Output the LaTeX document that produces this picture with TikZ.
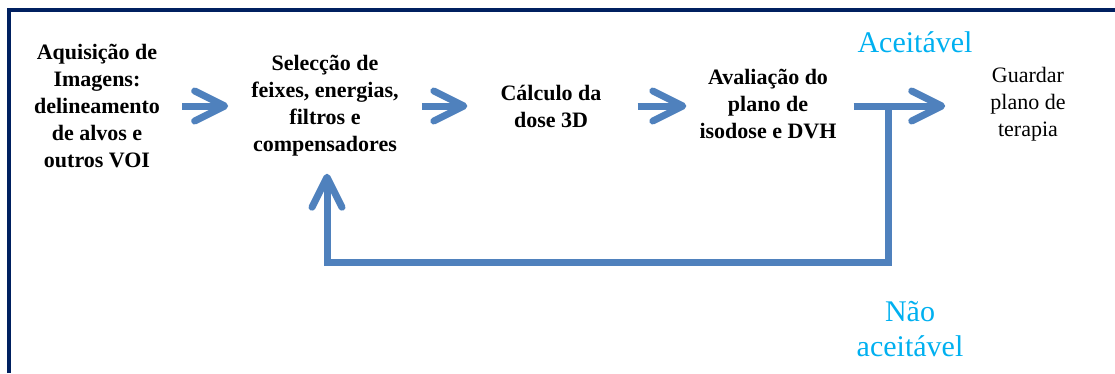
\documentclass[tikz,border=0pt]{standalone}
\usepackage{fontspec}
\setmainfont{Liberation Serif}
\usetikzlibrary{arrows.meta}

\definecolor{frameblue}{HTML}{002060}
\definecolor{arrowblue}{HTML}{4F81BD}
\definecolor{labelcyan}{HTML}{00B0F0}

\tikzset{
    stepbox/.style={align=center, inner sep=2pt, font=\fontsize{22}{27}\selectfont\bfseries},
    flow/.style={line width=7pt, arrowblue, -{Straight Barb[length=30pt,width=30pt,round]}},
    decision/.style={text=labelcyan, align=center, inner sep=0pt, font=\fontsize{30}{35}\selectfont}
}

\begin{document}
\begin{tikzpicture}[x=1pt,y=-1pt]
    \useasboundingbox (0,0) rectangle (1115,373);

    % Frame
    \draw[frameblue, line width=4pt] (9,373) -- (9,10) -- (1115,10);

    % Planning steps
    \node[stepbox] (acq) at (97,106) {Aquisição de\\Imagens:\\delineamento\\de alvos e\\outros VOI};
    \node[stepbox] (sel) at (325,106) {Selecção de\\feixes, energias,\\filtros e\\compensadores};
    \node[stepbox] (calc) at (551,106) {Cálculo da\\dose 3D};
    \node[stepbox] (aval) at (768,104) {Avaliação do\\plano de\\isodose e DVH};
    \node[stepbox, font=\fontsize{22}{27}\selectfont] (guard) at (1028,104) {Guardar\\plano de\\terapia};

    % Arrows between steps
    \draw[flow] ([xshift=20pt]acq.east) -- ([xshift=-21pt]sel.west);
    \draw[flow] ([xshift=21pt]sel.east) -- ([xshift=-31pt]calc.west);
    \draw[flow] ([xshift=34pt]calc.east) -- ([xshift=-11pt]aval.west |- calc.west);
    \draw[flow] ([xshift=15pt]aval.east |- calc.east) -- ([xshift=-43pt]guard.west |- calc.west);

    % Decision: back to beam selection
    \coordinate (split) at (888,106);
    \coordinate (back) at (888,262);
    \draw[flow] (split) -- (back) -| ([xshift=2pt,yshift=-15pt]sel.south);

    % Decision labels
    \node[decision] (ok) at (915,42) {Aceitável};
    \node[decision] (notok) at (910,329) {Não\\aceitável};
\end{tikzpicture}
\end{document}
